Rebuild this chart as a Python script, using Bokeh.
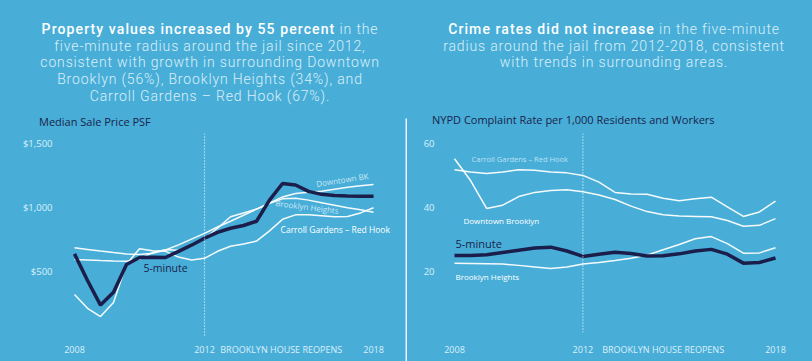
from bokeh.plotting import figure
from bokeh.layouts import row, column
from bokeh.models import (Label, Span, FixedTicker, Range1d, Div, GlobalInlineStyleSheet)
from bokeh.embed import file_html
from bokeh.resources import INLINE

# ---------------- data ----------------
# Left: median sale price PSF, sampled periods 0..23 (2008 -> 2018)
price_period = list(range(24))
price_tick_pos = [0, 10, 15.9, 23]
price_tick_lbl = ["2008", "2012", "BROOKLYN HOUSE REOPENS", "2018"]
price_yticks = [500, 1000, 1500]
price_ytick_lbl = ["$500", "$1,000", "$1,500"]
price_5min = [640, 432, 240, 340, 557, 612, 614, 612, 660, 708, 762, 808, 840, 862, 895,
              1060, 1190, 1178, 1128, 1105, 1097, 1093, 1091, 1091]
price_dtbk = [688, 675, 662, 650, 640, 635, 645, 670, 710, 755, 800, 850, 895, 942, 990,
              1036, 1085, 1112, 1122, 1130, 1145, 1160, 1172, 1182]
price_bh = [596, 592, 588, 585, 583, 600, 650, 672, 668, 700, 760, 840, 930, 960, 990,
            1035, 1070, 1075, 1060, 1040, 1020, 1000, 985, 966]
price_cgrh = [323, 215, 150, 260, 560, 680, 665, 660, 615, 592, 605, 660, 700, 718, 740,
              820, 910, 945, 945, 938, 930, 932, 960, 1000]

# Right: NYPD complaint rate per 1,000 residents and workers (half-year steps)
crime_year = [2008.0, 2008.5, 2009.0, 2009.5, 2010.0, 2010.5, 2011.0, 2011.5, 2012.0, 2012.5,
              2013.0, 2013.5, 2014.0, 2014.5, 2015.0, 2015.5, 2016.0, 2016.5, 2017.0, 2017.5, 2018.0]
crime_xticks = [2008, 2012, 2014.5, 2018]
crime_xtick_lbl = ["2008", "2012", "BROOKLYN HOUSE REOPENS", "2018"]
crime_yticks = [20, 40, 60]
crime_cgrh = [51.9, 51.2, 50.7, 51.2, 51.9, 51.7, 51.2, 50.9, 50.1, 48.0, 44.8, 44.3, 44.2,
              43.0, 42.2, 42.8, 43.3, 40.3, 37.3, 38.7, 42.1]
crime_dtbk = [55.3, 48.5, 39.8, 40.8, 43.5, 44.8, 45.4, 45.6, 45.0, 44.0, 42.6, 40.5, 38.8,
              37.8, 37.4, 37.3, 37.2, 36.0, 34.2, 34.5, 36.6]
crime_bh = [22.7, 22.6, 22.5, 22.4, 22.0, 21.5, 21.0, 21.5, 22.4, 22.9, 23.5, 24.2, 25.2,
            26.9, 28.5, 30.3, 31.0, 28.8, 25.8, 25.9, 27.5]
crime_5min = [25.1, 25.1, 25.3, 26.0, 26.7, 27.4, 27.7, 26.5, 24.8, 25.5, 26.1, 25.7, 24.9,
              25.0, 25.6, 26.5, 27.0, 25.5, 22.7, 22.9, 24.3]

left_heading_bold = "Property values increased by 55 percent"
left_heading = ["in the", "five-minute radius around the jail since 2012,",
                "consistent with growth in surrounding Downtown",
                "Brooklyn (56%), Brooklyn Heights (34%), and",
                "Carroll Gardens \u2013 Red Hook (67%)."]
right_heading_bold = "Crime rates did not increase"
right_heading = ["in the five-minute", "radius around the jail from 2012-2018, consistent",
                 "with trends in surrounding areas."]

# ---------------- style ----------------
BG = "#48AED8"
NAVY = "#1B1E4B"
WHITE = "#FFFFFF"
LIGHT = "#DCEFF8"
FONT = "Open Sans"
HFONT = "Roboto"
HEAD_H = 133
FIG_H = 361 - HEAD_H
LINE_H = 16.7


def base_fig(width, xr, yr, left, right, bottom):
    p = figure(width=width, height=FIG_H, x_range=xr, y_range=yr, output_backend="svg",
               toolbar_location=None, min_border_left=left, min_border_right=right,
               min_border_top=0, min_border_bottom=bottom)
    p.background_fill_color = BG
    p.border_fill_color = BG
    p.outline_line_color = None
    p.grid.visible = False
    for ax in (p.xaxis[0], p.yaxis[0]):
        ax.axis_line_color = None
        ax.major_tick_line_color = None
        ax.minor_tick_line_color = None
        ax.major_tick_out = 0
        ax.major_tick_in = 0
        ax.minor_tick_out = 0
        ax.minor_tick_in = 0
        ax.major_label_text_color = LIGHT
        ax.major_label_text_font = FONT
    p.yaxis.major_label_text_font_size = "9.5px"
    p.xaxis.major_label_text_font_size = "9px"
    p.yaxis.major_label_standoff = 8
    return p


def dlabel(p, x, y, s, size, color=WHITE, align="left", alpha=1.0, angle=0.0):
    p.add_layout(Label(x=x, y=y, text=s, text_font=FONT, text_font_size=size,
                       text_color=color, text_align=align, text_baseline="middle",
                       text_alpha=alpha, angle=angle))


def heading(bold, rest, center_x, title, title_x, title_center):
    pad = 2 * center_x - 405
    pad_css = ("padding-left:%dpx;" % pad) if pad >= 0 else ("padding-right:%dpx;" % -pad)
    first = ("<span style='color:%s;font-weight:500;letter-spacing:1.1px'>%s</span> %s"
             % (WHITE, bold, rest[0]))
    lines = [first] + list(rest[1:])
    rows = "".join(
        "<div style='height:%.1fpx;line-height:%.1fpx'>%s</div>" % (LINE_H, LINE_H, ln)
        for ln in lines)
    top_pad = 21.0
    title_top = title_center - 7 - (top_pad + LINE_H * len(lines))
    html = (
        "<div style=\"width:405px;height:%dpx;white-space:nowrap;\">"
        "<div style=\"font-family:'%s';font-size:14px;color:%s;font-weight:300;"
        "letter-spacing:0.85px;text-align:center;padding-top:%.1fpx;%s\">%s</div>"
        "<div style=\"font-family:'%s';font-size:11px;line-height:14px;height:14px;color:%s;"
        "text-align:left;padding-left:%dpx;margin-top:%.1fpx\">%s</div></div>"
    ) % (HEAD_H, HFONT, LIGHT, top_pad, pad_css, rows, FONT, NAVY, title_x, title_top, title)
    return Div(text=html, width=405, height=HEAD_H, margin=0,
               styles={"background-color": BG})


# ---------------- left chart ----------------
L = base_fig(405, Range1d(-1.077, 24.69), Range1d(-13.3, 1580.5), 60, 10, 24)
L.xaxis.ticker = FixedTicker(ticks=price_tick_pos)
L.xaxis.major_label_overrides = dict(zip(price_tick_pos, price_tick_lbl))
L.xaxis.major_label_standoff = 5
L.yaxis.ticker = FixedTicker(ticks=price_yticks)
L.yaxis.major_label_overrides = dict(zip(price_yticks, price_ytick_lbl))

L.add_layout(Span(location=price_tick_pos[1], dimension="height", line_color=WHITE,
                  line_width=1.2, line_dash="1 2", line_alpha=0.9))
for ys in (price_dtbk, price_bh, price_cgrh):
    L.line(price_period, ys, line_color=WHITE, line_width=1.5, line_alpha=0.95)
L.line(price_period, price_5min, line_color=NAVY, line_width=3.5)

dlabel(L, 20.6, 1221, "Downtown BK", "8px", LIGHT, "center", 0.9, 0.15)
dlabel(L, 17.9, 1010, "Brooklyn Heights", "8px", LIGHT, "center", 0.9, -0.125)
dlabel(L, 15.85, 830, "Carroll Gardens \u2013 Red Hook", "8.5px", WHITE)
dlabel(L, 5.3, 530, "5-minute", "10.5px", NAVY)

HL = heading(left_heading_bold, left_heading, 210, "Median Sale Price PSF", 39, 121.7)

# ---------------- separator ----------------
S = figure(width=2, height=361, output_backend="svg", toolbar_location=None,
           min_border_left=0, min_border_right=0, min_border_top=118, min_border_bottom=0,
           x_range=Range1d(0, 1), y_range=Range1d(0, 1))
S.background_fill_color = WHITE
S.background_fill_alpha = 0.9
S.border_fill_color = BG
S.outline_line_color = None
S.axis.visible = False
S.grid.visible = False

# ---------------- right chart ----------------
R = base_fig(405, Range1d(2007.626, 2018.623), Range1d(1.03, 63.2), 35, 17, 29)
R.xaxis.ticker = FixedTicker(ticks=crime_xticks)
R.xaxis.major_label_overrides = dict(zip(crime_xticks, crime_xtick_lbl))
R.xaxis.major_label_standoff = 10
R.yaxis.ticker = FixedTicker(ticks=crime_yticks)

R.add_layout(Span(location=crime_xticks[1], dimension="height", line_color=WHITE,
                  line_width=1.2, line_dash="1 2", line_alpha=0.9))
for ys in (crime_cgrh, crime_dtbk, crime_bh):
    R.line(crime_year, ys, line_color=WHITE, line_width=1.5, line_alpha=0.95)
R.line(crime_year, crime_5min, line_color=NAVY, line_width=3.5)

dlabel(R, 2008.53, 55.3, "Carroll Gardens \u2013 Red Hook", "7.5px", LIGHT, alpha=0.8)
dlabel(R, 2008.28, 36.0, "Downtown Brooklyn", "8px", WHITE)
dlabel(R, 2008.03, 28.9, "5-minute", "11px", NAVY)
dlabel(R, 2008.03, 18.6, "Brooklyn Heights", "8px", WHITE)

HR = heading(right_heading_bold, right_heading, 207,
             "NYPD Complaint Rate per 1,000 Residents and Workers", 25, 120.0)

p = row(column(HL, L, spacing=0), S, column(HR, R, spacing=0), spacing=0)
p.stylesheets = [GlobalInlineStyleSheet(css="body { background: %s; margin: 0; }" % BG)]

open("out.html", "w").write(file_html(p, INLINE))
